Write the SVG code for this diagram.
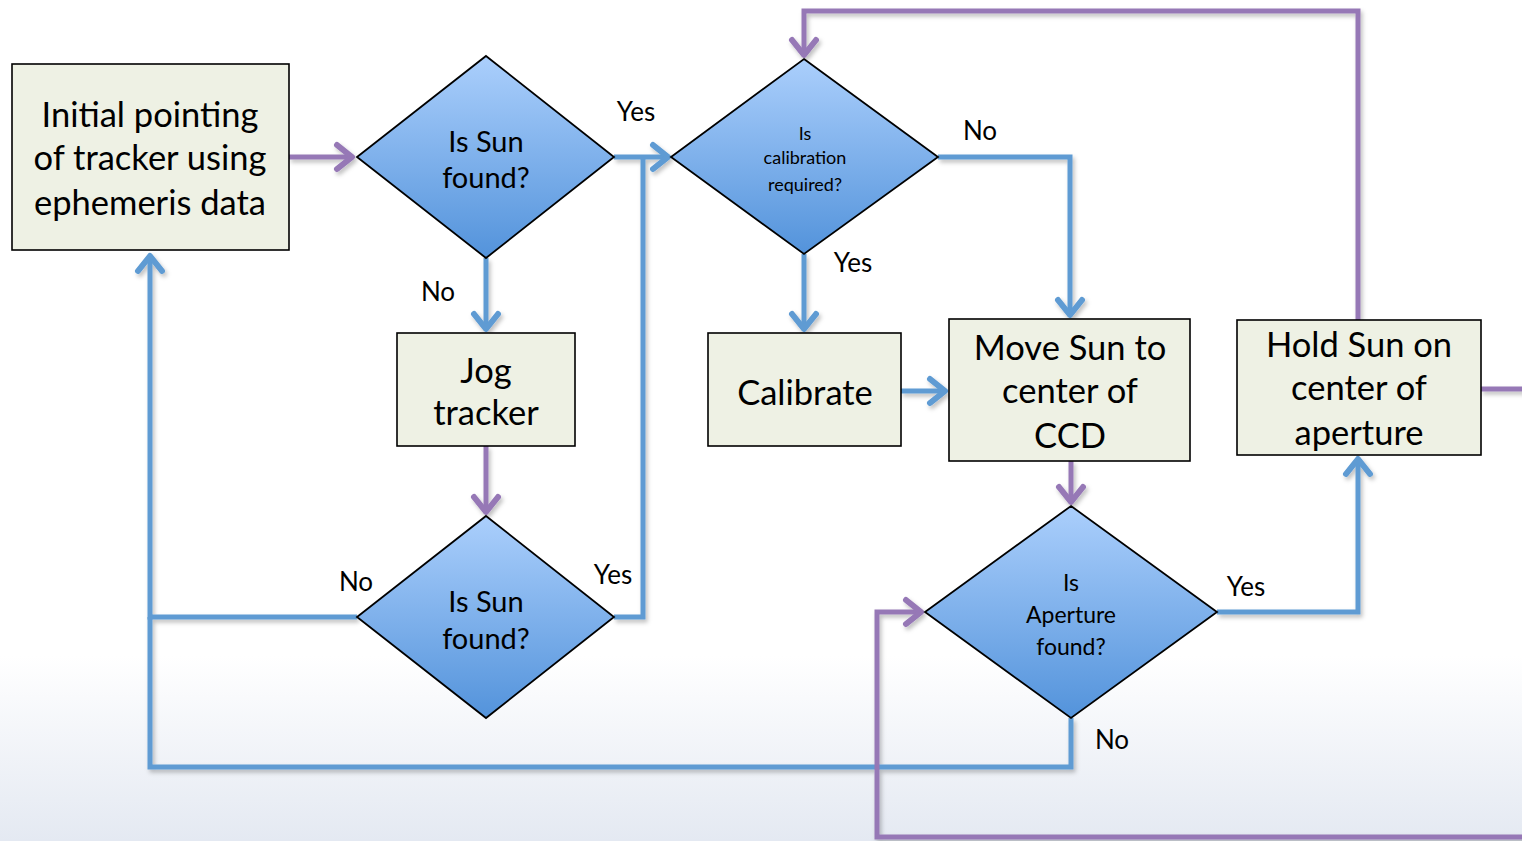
<svg xmlns="http://www.w3.org/2000/svg" width="1522" height="841" viewBox="0 0 1522 841">
<defs>
<linearGradient id="bg" x1="0" y1="0" x2="0" y2="1">
<stop offset="0" stop-color="#ffffff"/>
<stop offset="0.78" stop-color="#ffffff"/>
<stop offset="1" stop-color="#e4e9f2"/>
</linearGradient>
<linearGradient id="dg" x1="0" y1="0" x2="0" y2="1">
<stop offset="0" stop-color="#abcffc"/>
<stop offset="1" stop-color="#5393db"/>
</linearGradient>
<filter id="sh" x="-10%" y="-10%" width="120%" height="120%">
<feDropShadow dx="2" dy="3" stdDeviation="2" flood-color="#000" flood-opacity="0.25"/>
</filter>
<marker id="ab" markerUnits="userSpaceOnUse" markerWidth="32" markerHeight="32" viewBox="-22 -16 26 32" refX="0" refY="0" orient="auto">
<path d="M-15,-12 L0,0 L-15,12" fill="none" stroke="#5e9bd3" stroke-width="6" stroke-linecap="round" stroke-linejoin="round"/>
</marker>
<marker id="ap" markerUnits="userSpaceOnUse" markerWidth="32" markerHeight="32" viewBox="-22 -16 26 32" refX="0" refY="0" orient="auto">
<path d="M-15,-12 L0,0 L-15,12" fill="none" stroke="#9678b6" stroke-width="6" stroke-linecap="round" stroke-linejoin="round"/>
</marker>
</defs>
<style>
.box{fill:#eef1e4;stroke:#000;stroke-width:1.6}
.dia{fill:url(#dg);stroke:#000;stroke-width:1.8}
.t{font-family:Lato,"Open Sans",sans-serif;fill:#000;text-anchor:middle}
.big{font-size:34.5px}
.mid{font-size:29px}
.lbl{font-size:26px}
.b{fill:none;stroke:#5e9bd3;stroke-width:5;stroke-linejoin:miter}
.p{fill:none;stroke:#9678b6;stroke-width:5;stroke-linejoin:miter}
</style>
<rect width="1522" height="841" fill="url(#bg)"/>

<g id="connectors" filter="url(#sh)">
<path class="b" d="M150,617 L150,767 L1071,767 L1071,718"/>
<path class="b" d="M357,617 L150,617 L150,256" marker-end="url(#ab)"/>
<path class="p" d="M289,157 L352,157" marker-end="url(#ap)"/>
<path class="b" d="M614,157 L668,157" marker-end="url(#ab)"/>
<path class="b" d="M614,617 L643,617 L643,157"/>
<path class="b" d="M486,258 L486,329" marker-end="url(#ab)"/>
<path class="p" d="M486,446 L486,512" marker-end="url(#ap)"/>
<path class="b" d="M804,254 L804,329" marker-end="url(#ab)"/>
<path class="b" d="M938,157 L1070,157 L1070,315" marker-end="url(#ab)"/>
<path class="b" d="M901,391 L945,391" marker-end="url(#ab)"/>
<path class="p" d="M1071,461 L1071,502" marker-end="url(#ap)"/>
<path class="b" d="M1217,612 L1358,612 L1358,459" marker-end="url(#ab)"/>
<path class="p" d="M1358,320 L1358,11 L804,11 L804,55" marker-end="url(#ap)"/>
<path class="p" d="M1481,389 L1524,389"/>
<path class="p" d="M1524,837 L877,837 L877,612 L921,612" marker-end="url(#ap)"/>
</g>

<g id="n-initial">
<rect class="box" x="12" y="64" width="277" height="186"/>
<text class="t big" x="150" y="127">Initial pointing</text>
<text class="t big" x="150" y="170">of tracker using</text>
<text class="t big" x="150" y="215">ephemeris data</text>
</g>

<g id="n-found1">
<polygon class="dia" points="486,56 614,157 486,258 357,157"/>
<text class="t mid" x="486" y="152">Is Sun</text>
<text class="t mid" x="486" y="188">found?</text>
</g>

<g id="n-jog">
<rect class="box" x="397" y="333" width="178" height="113"/>
<text class="t big" x="486" y="383">Jog</text>
<text class="t big" x="486" y="425">tracker</text>
</g>

<g id="n-found2">
<polygon class="dia" points="486,516 614,617 486,718 357,617"/>
<text class="t mid" x="486" y="612">Is Sun</text>
<text class="t mid" x="486" y="649">found?</text>
</g>

<g id="n-calreq">
<polygon class="dia" points="804,59 938,157 804,254 671,157"/>
<text class="t" font-size="18" x="805" y="140">Is</text>
<text class="t" font-size="18" x="805" y="164">calibration</text>
<text class="t" font-size="18" x="805" y="191">required?</text>
</g>

<g id="n-calibrate">
<rect class="box" x="708" y="333" width="193" height="113"/>
<text class="t big" x="805" y="405">Calibrate</text>
</g>

<g id="n-move">
<rect class="box" x="949" y="319" width="241" height="142"/>
<text class="t big" x="1070" y="360">Move Sun to</text>
<text class="t big" x="1070" y="403">center of</text>
<text class="t big" x="1070" y="448">CCD</text>
</g>

<g id="n-hold">
<rect class="box" x="1237" y="320" width="244" height="135"/>
<text class="t big" x="1359" y="357">Hold Sun on</text>
<text class="t big" x="1359" y="400">center of</text>
<text class="t big" x="1359" y="445">aperture</text>
</g>

<g id="n-aperture">
<polygon class="dia" points="1071,506 1217,612 1071,718 925,612"/>
<text class="t" font-size="23" x="1071" y="591">Is</text>
<text class="t" font-size="23" x="1071" y="623">Aperture</text>
<text class="t" font-size="23" x="1071" y="655">found?</text>
</g>

<g id="labels">
<text class="t lbl" x="636" y="121">Yes</text>
<text class="t lbl" x="438" y="301">No</text>
<text class="t lbl" x="356" y="591">No</text>
<text class="t lbl" x="613" y="584">Yes</text>
<text class="t lbl" x="980" y="140">No</text>
<text class="t lbl" x="853" y="272">Yes</text>
<text class="t lbl" x="1246" y="596">Yes</text>
<text class="t lbl" x="1112" y="749">No</text>
</g>
</svg>
